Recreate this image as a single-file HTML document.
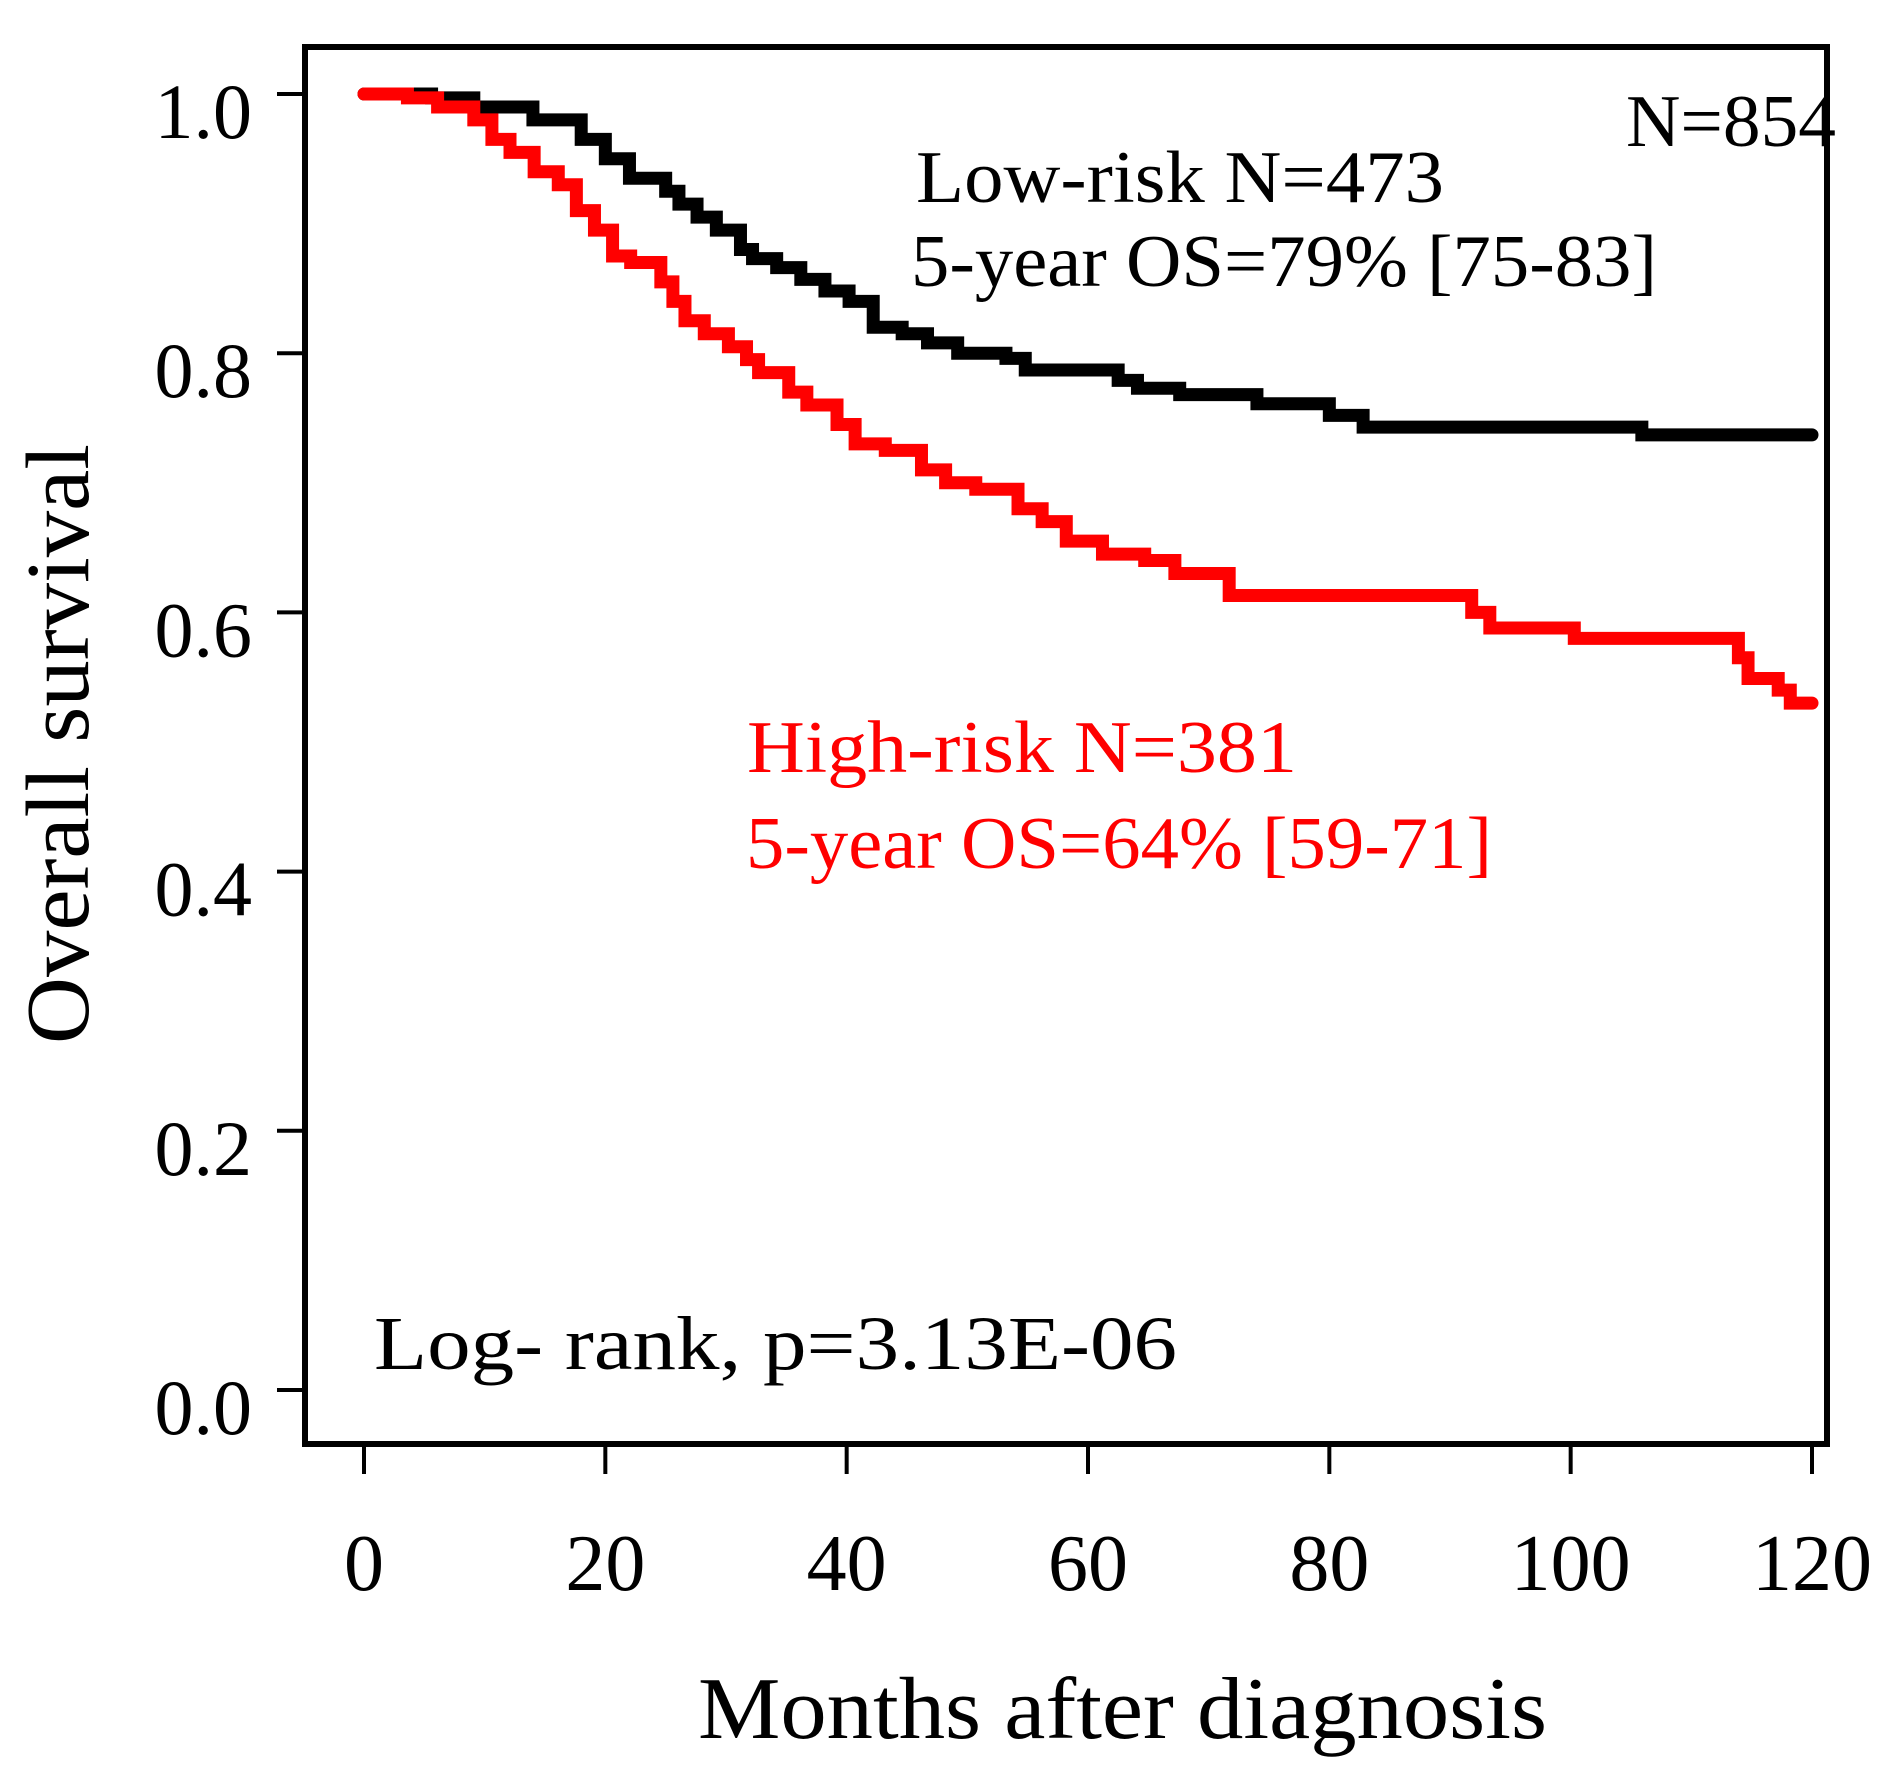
<!DOCTYPE html>
<html><head><meta charset="utf-8"><style>
html,body{margin:0;padding:0;background:#fff;}
svg{display:block;}
text{font-family:"Liberation Serif",serif;}
</style></head><body>
<svg id="chart" width="1898" height="1779" viewBox="0 0 1898 1779" xmlns="http://www.w3.org/2000/svg">
<g id="axes"></g>
<g id="curves"></g>
<rect x="305" y="47" width="1522" height="1397" fill="none" stroke="#000" stroke-width="6"/>
<text x="1626" y="146" font-size="74" textLength="210" lengthAdjust="spacingAndGlyphs">N=854</text>
<text x="916" y="202" font-size="74" textLength="528" lengthAdjust="spacingAndGlyphs">Low-risk N=473</text>
<text x="911" y="286" font-size="74" textLength="746" lengthAdjust="spacingAndGlyphs">5-year OS=79% [75-83]</text>
<text x="747" y="772" font-size="74" fill="#ff0000" textLength="550" lengthAdjust="spacingAndGlyphs">High-risk N=381</text>
<text x="746" y="868" font-size="74" fill="#ff0000" textLength="746" lengthAdjust="spacingAndGlyphs">5-year OS=64% [59-71]</text>
<text x="374" y="1369" font-size="76" textLength="803" lengthAdjust="spacingAndGlyphs">Log- rank, p=3.13E-06</text>
<text x="698" y="1738" font-size="88" textLength="849" lengthAdjust="spacingAndGlyphs">Months after diagnosis</text>
<text transform="translate(88,1044) rotate(-90)" x="0" y="0" font-size="90" textLength="600" lengthAdjust="spacingAndGlyphs">Overall survival</text>
</svg>
<script>
const xTicks = [0, 20, 40, 60, 80, 100, 120];
const yTicks = [0.0, 0.2, 0.4, 0.6, 0.8, 1.0];
const yTickLabels = ["0.0", "0.2", "0.4", "0.6", "0.8", "1.0"];
const lowMonths = [0, 5.6, 9.1, 14, 18, 20, 22, 25, 26.1, 27.6, 29.2, 31.2, 32.2, 34.2, 36.2, 38.2, 40.2, 42.2, 44.6, 46.7, 49.2, 53.2, 54.8, 62.5, 64.1, 67.6, 74, 80, 82.8, 105.9];
const lowSurv = [1.0, 0.997, 0.99, 0.98, 0.965, 0.95, 0.935, 0.925, 0.915, 0.905, 0.895, 0.88, 0.873, 0.866, 0.857, 0.848, 0.84, 0.82, 0.815, 0.808, 0.8, 0.796, 0.787, 0.779, 0.773, 0.768, 0.761, 0.752, 0.743, 0.737];
const highMonths = [0, 3.6, 6.1, 9.1, 10.6, 12.1, 14.1, 16.1, 17.6, 19.1, 20.6, 22.1, 24.6, 25.6, 26.6, 28.2, 30.2, 31.7, 32.7, 35.2, 36.7, 39.2, 40.7, 43.2, 46.2, 48.2, 50.7, 54.2, 56.2, 58.2, 61.2, 64.7, 67.2, 71.7, 91.8, 93.3, 100.3, 113.9, 114.7, 117.2, 118.2];
const highSurv = [1.0, 0.997, 0.99, 0.98, 0.965, 0.955, 0.94, 0.93, 0.91, 0.895, 0.875, 0.87, 0.855, 0.84, 0.825, 0.815, 0.805, 0.795, 0.785, 0.77, 0.76, 0.745, 0.73, 0.725, 0.71, 0.7, 0.695, 0.68, 0.67, 0.655, 0.645, 0.64, 0.63, 0.613, 0.6, 0.588, 0.58, 0.565, 0.549, 0.54, 0.53];
const endMonth = 120;

const NS = "http://www.w3.org/2000/svg";
function xs(m){ return 364 + m * (1812 - 364) / 120; }
function ys(v){ return 1390 - v * (1390 - 94); }

const axes = document.getElementById('axes');
xTicks.forEach(t => {
  const l = document.createElementNS(NS, 'line');
  l.setAttribute('x1', xs(t)); l.setAttribute('x2', xs(t));
  l.setAttribute('y1', 1444); l.setAttribute('y2', 1474);
  l.setAttribute('stroke', '#000'); l.setAttribute('stroke-width', '4');
  
  
  axes.appendChild(l);
  const tx = document.createElementNS(NS, 'text');
  tx.setAttribute('x', xs(t)); tx.setAttribute('y', 1590);
  tx.setAttribute('font-size', '80'); tx.setAttribute('text-anchor', 'middle');
  tx.textContent = String(t);
  
  
  axes.appendChild(tx);
});
yTicks.forEach((t, i) => {
  const l = document.createElementNS(NS, 'line');
  l.setAttribute('x1', 277); l.setAttribute('x2', 305);
  l.setAttribute('y1', ys(t)); l.setAttribute('y2', ys(t));
  l.setAttribute('stroke', '#000'); l.setAttribute('stroke-width', '4');
  
  
  axes.appendChild(l);
  const tx = document.createElementNS(NS, 'text');
  tx.setAttribute('x', 252); tx.setAttribute('y', ys(t) + 44);
  tx.setAttribute('font-size', '78'); tx.setAttribute('text-anchor', 'end');
  tx.textContent = yTickLabels[i];
  
  
  axes.appendChild(tx);
});

function stepPath(ms, vs){
  let d = 'M' + xs(ms[0]) + ',' + ys(vs[0]);
  for (let i = 1; i < ms.length; i++){
    d += ' H' + xs(ms[i]) + ' V' + ys(vs[i]);
  }
  d += ' H' + xs(endMonth);
  return d;
}
const curves = document.getElementById('curves');
const pLow = document.createElementNS(NS, 'path');
pLow.setAttribute('d', stepPath(lowMonths, lowSurv));
pLow.setAttribute('fill', 'none'); pLow.setAttribute('stroke', '#000');
pLow.setAttribute('stroke-width', '13'); pLow.setAttribute('stroke-linecap', 'round');


curves.appendChild(pLow);
const pHigh = document.createElementNS(NS, 'path');
pHigh.setAttribute('d', stepPath(highMonths, highSurv));
pHigh.setAttribute('fill', 'none'); pHigh.setAttribute('stroke', '#ff0000');
pHigh.setAttribute('stroke-width', '13'); pHigh.setAttribute('stroke-linecap', 'round');


curves.appendChild(pHigh);
</script>
</body></html>
